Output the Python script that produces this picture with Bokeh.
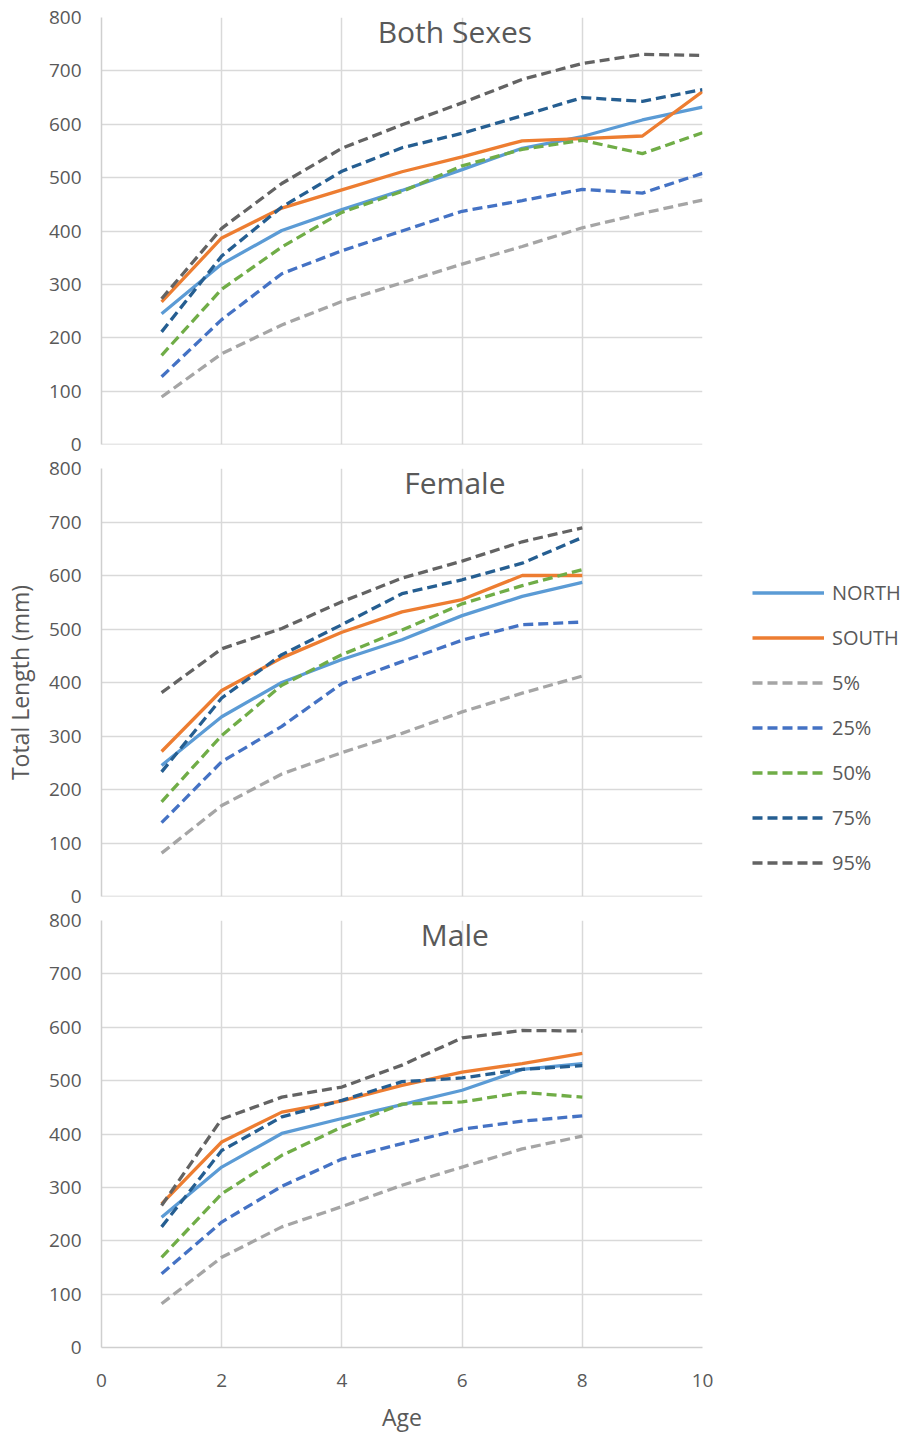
from bokeh.plotting import figure
from bokeh.models import Legend, LegendItem, Label, Span, FixedTicker, Range1d
from bokeh.layouts import column
from bokeh.embed import file_html
from bokeh.resources import INLINE

# ---------------- data ----------------
ages_both = [1, 2, 3, 4, 5, 6, 7, 8, 9, 10]
ages_sex = [1, 2, 3, 4, 5, 6, 7, 8]

series_names = ["NORTH", "SOUTH", "5%", "25%", "50%", "75%", "95%"]

north_both = [245, 338, 401, 440, 476, 515, 555, 577, 608, 632]
south_both = [267, 387, 443, 477, 511, 539, 569, 573, 578, 661]
p5_both = [89, 170, 224, 268, 303, 338, 371, 406, 433, 458]
p25_both = [127, 234, 320, 363, 400, 437, 457, 478, 471, 508]
p50_both = [167, 291, 370, 435, 474, 522, 553, 570, 545, 584]
p75_both = [211, 353, 445, 512, 556, 583, 616, 650, 643, 665]
p95_both = [273, 405, 489, 555, 599, 640, 684, 714, 731, 729]

north_female = [245, 336, 400, 443, 480, 525, 561, 587]
south_female = [271, 385, 446, 494, 532, 555, 600, 600]
p5_female = [81, 170, 229, 269, 305, 345, 380, 412]
p25_female = [138, 252, 318, 398, 439, 479, 508, 513]
p50_female = [177, 301, 395, 452, 498, 547, 581, 611]
p75_female = [233, 371, 452, 508, 566, 592, 623, 671]
p95_female = [381, 463, 501, 551, 595, 627, 663, 689]

north_male = [244, 338, 401, 429, 455, 482, 521, 532]
south_male = [269, 385, 441, 462, 491, 516, 532, 551]
p5_male = [82, 169, 226, 264, 304, 338, 372, 396]
p25_male = [138, 235, 302, 353, 382, 409, 424, 434]
p50_male = [169, 288, 360, 413, 456, 460, 478, 469]
p75_male = [226, 369, 432, 463, 498, 505, 521, 528]
p95_male = [266, 428, 469, 488, 529, 580, 594, 593]

x_ticks = [0, 2, 4, 6, 8, 10]
y_ticks = [0, 100, 200, 300, 400, 500, 600, 700, 800]

# ---------------- styles ----------------
FONT = "Open Sans"
TXT = "#595959"
GRID = "#d9d9d9"
AXIS = "#cfcfcf"
colors = ["#5B9BD5", "#ED7D31", "#A5A5A5", "#4472C4", "#70AD47", "#255E91", "#636363"]
dashes = ["solid", "solid", "10 5", "10 5", "10 5", "10 5", "10 5"]

LEFT = 101
RIGHT = 207


def make_panel(title, ages, data, top, frame_h, bottom, show_x, ylabel=None):
    p = figure(frame_width=601, frame_height=frame_h,
               min_border_left=LEFT, min_border_right=RIGHT,
               min_border_top=top, min_border_bottom=bottom,
               x_range=Range1d(0, 10), y_range=Range1d(0, 800),
               output_backend="svg", toolbar_location=None,
               background_fill_color="white", border_fill_color="white")
    p.outline_line_color = None
    p.xaxis.ticker = FixedTicker(ticks=x_ticks)
    p.yaxis.ticker = FixedTicker(ticks=y_ticks)
    p.xgrid.ticker = FixedTicker(ticks=x_ticks)
    p.ygrid.ticker = FixedTicker(ticks=y_ticks)
    for g in (p.xgrid, p.ygrid):
        g.grid_line_color = GRID
        g.grid_line_width = 1.5
    for ax in (p.xaxis, p.yaxis):
        ax.axis_line_color = AXIS
        ax.axis_line_width = 1.5
        ax.major_tick_line_color = None
        ax.minor_tick_line_color = None
        ax.major_tick_out = 0
        ax.major_tick_in = 0
        ax.major_label_text_font = FONT
        ax.major_label_text_font_size = "19px"
        ax.major_label_text_color = TXT
        ax.axis_label_text_font = FONT
        ax.axis_label_text_font_size = "23px"
        ax.axis_label_text_color = TXT
        ax.axis_label_text_font_style = "normal"
    p.yaxis.major_label_standoff = 20
    if ylabel:
        p.yaxis.axis_label = ylabel
        p.yaxis.axis_label_standoff = 10
    if show_x:
        p.xaxis.major_label_standoff = 26
        p.xaxis.axis_label = "Age"
        p.xaxis.axis_label_standoff = 11
    else:
        p.xaxis.visible = False
        p.add_layout(Span(location=0, dimension="width", line_color=AXIS, line_width=1.5))

    renderers = []
    for name, vals, c, d in zip(series_names, data, colors, dashes):
        r = p.line(ages, vals, line_color=c, line_width=3.3, line_dash=d)
        renderers.append(r)

    p.add_layout(Label(x=5.88, y=800, y_offset=-14, text=title, text_align="center",
                       text_baseline="alphabetic", text_font=FONT,
                       text_font_size="30px", text_color=TXT))
    return p, renderers


p1, _ = make_panel("Both Sexes", ages_both,
                   [north_both, south_both, p5_both, p25_both, p50_both, p75_both, p95_both],
                   17, 427, 12, False)
p2, rs = make_panel("Female", ages_sex,
                    [north_female, south_female, p5_female, p25_female, p50_female, p75_female, p95_female],
                    12, 428, 12, False, ylabel="Total Length (mm)")
p3, _ = make_panel("Male", ages_sex,
                   [north_male, south_male, p5_male, p25_male, p50_male, p75_male, p95_male],
                   12, 427, 86, True)

legend = Legend(items=[LegendItem(label=n, renderers=[r]) for n, r in zip(series_names, rs)],
                location=(50, 20), orientation="vertical",
                glyph_width=72, glyph_height=27, label_height=27, spacing=18,
                label_standoff=8, padding=0, margin=0,
                border_line_color=None, background_fill_alpha=0,
                label_text_font=FONT, label_text_font_size="20px",
                label_text_color=TXT)
p2.add_layout(legend, "right")

layout = column(p1, p2, p3, spacing=0)

open("out.html", "w").write(file_html(layout, INLINE))
